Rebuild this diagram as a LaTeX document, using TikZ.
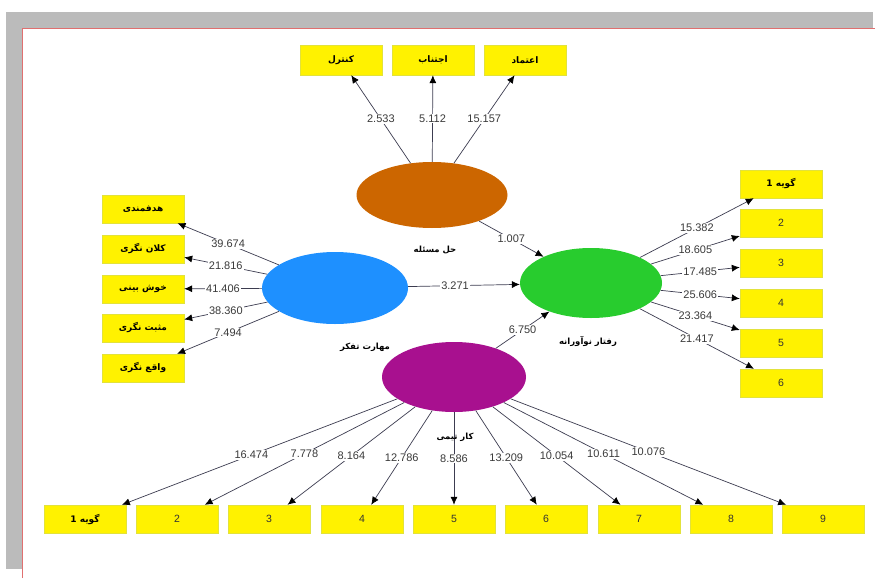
\documentclass[tikz,border=0pt]{standalone}
\usepackage{fontspec}
\setmainfont{Liberation Sans}
\newfontfamily\farsi[Script=Arabic]{DejaVu Sans}
\TeXXeTstate=1
\usepackage{xcolor}
\usetikzlibrary{shapes,arrows.meta,positioning,calc}

\definecolor{panelgray}{HTML}{BBBBBB}
\definecolor{framered}{HTML}{E07070}
\definecolor{boxedge}{HTML}{E2E23C}
\definecolor{linegray}{HTML}{3C3C50}
\definecolor{coefgray}{HTML}{3A3A3A}
\definecolor{solveorange}{HTML}{CC6600}
\definecolor{thinkblue}{HTML}{1E90FF}
\definecolor{innogreen}{HTML}{28CC2E}
\definecolor{teampurple}{HTML}{A8108F}

\newcommand{\fa}[1]{{\farsi\bfseries\beginR #1\endR}}

\begin{document}
\begin{tikzpicture}[x=1pt, y=-1pt,
    item/.style={rectangle, draw=boxedge, fill=yellow, minimum width=82pt, minimum height=28pt, inner sep=0pt, text=black!80, font=\fontsize{10.5}{12}\selectfont},
    faitem/.style={item, text=black, font=\fontsize{9}{10}\selectfont},
    latent/.style={ellipse, minimum width=146pt, minimum height=70pt, inner sep=0pt},
    tag/.style={font=\fontsize{8.5}{10}\selectfont},
    load/.style={draw=linegray, line width=0.7pt, -{Latex[length=8pt, width=7pt, color=black]}},
    coef/.style={fill=white, inner sep=1pt, text=coefgray, font=\fontsize{11}{12}\selectfont}]

    \useasboundingbox (0,0) rectangle (875,578);

    % Page frame
    \fill[panelgray] (6,12) rectangle (873,569);
    \fill[white] (22,28) rectangle (875,578);
    \draw[framered, line width=0.8pt] (22,578) -- (22,28) -- (875,28);

    % Latent variables
    \node[latent, fill=solveorange, minimum width=151pt, minimum height=66pt] (solve) at (432,195) {};
    \node[latent, fill=thinkblue, minimum height=72pt] (think) at (335,288) {};
    \node[latent, fill=innogreen, minimum width=142pt] (inno) at (591,283) {};
    \node[latent, fill=teampurple, minimum width=144pt] (team) at (454,377) {};

    % Indicators of problem solving
    \node[faitem, minimum height=30pt] (s1) at (341,60) {\fa{کنترل}};
    \node[faitem, minimum height=30pt] (s2) at (433,60) {\fa{اجتناب}};
    \node[faitem, minimum height=30pt] (s3) at (525,60) {\fa{اعتماد}};

    % Indicators of thinking skill
    \node[faitem] (t1) at (143,209) {\fa{هدفمندی}};
    \node[faitem] (t2) at (143,249) {\fa{کلان نگری}};
    \node[faitem] (t3) at (143,289) {\fa{خوش بینی}};
    \node[faitem] (t4) at (143,328) {\fa{مثبت نگری}};
    \node[faitem] (t5) at (143,368) {\fa{واقع نگری}};

    % Indicators of innovative behaviour
    \node[faitem] (i1) at (781,184) {\fa{گویه 1}};
    \node[item] (i2) at (781,223) {2};
    \node[item] (i3) at (781,263) {3};
    \node[item] (i4) at (781,303) {4};
    \node[item] (i5) at (781,343) {5};
    \node[item] (i6) at (781,383) {6};

    % Indicators of teamwork
    \node[faitem] (m1) at (85,519) {\fa{گویه 1}};
    \node[item] (m2) at (177,519) {2};
    \node[item] (m3) at (269,519) {3};
    \node[item] (m4) at (362,519) {4};
    \node[item] (m5) at (454,519) {5};
    \node[item] (m6) at (546,519) {6};
    \node[item] (m7) at (639,519) {7};
    \node[item] (m8) at (731,519) {8};
    \node[item] (m9) at (823,519) {9};

    % Structural paths
    \draw[load] (solve) -- node[coef] {1.007} (inno);
    \draw[load] (think) -- node[coef, pos=0.42] {3.271} (inno);
    \draw[load] (team) -- node[coef] {6.750} (inno);

    % Loadings
    \draw[load] (solve) -- node[coef] {2.533} (s1);
    \draw[load] (solve) -- node[coef] {5.112} (s2);
    \draw[load] (solve) -- node[coef] {15.157} (s3);

    \draw[load] (think) -- node[coef] {39.674} (t1);
    \draw[load] (think) -- node[coef] {21.816} (t2);
    \draw[load] (think) -- node[coef] {41.406} (t3);
    \draw[load] (think) -- node[coef] {38.360} (t4);
    \draw[load] (think) -- node[coef] {7.494} (t5);

    \draw[load] (inno) -- node[coef] {15.382} (i1);
    \draw[load] (inno) -- node[coef] {18.605} (i2);
    \draw[load] (inno) -- node[coef] {17.485} (i3);
    \draw[load] (inno) -- node[coef] {25.606} (i4);
    \draw[load] (inno) -- node[coef] {23.364} (i5);
    \draw[load] (inno) -- node[coef] {21.417} (i6);

    \draw[load] (team) -- node[coef, pos=0.53] {16.474} (m1);
    \draw[load] (team) -- node[coef] {7.778} (m2);
    \draw[load] (team) -- node[coef] {8.164} (m3);
    \draw[load] (team) -- node[coef] {12.786} (m4);
    \draw[load] (team) -- node[coef] {8.586} (m5);
    \draw[load] (team) -- node[coef] {13.209} (m6);
    \draw[load] (team) -- node[coef] {10.054} (m7);
    \draw[load] (team) -- node[coef] {10.611} (m8);
    \draw[load] (team) -- node[coef] {10.076} (m9);

    % Latent names (on top of the lines)
    \node[tag] (solvename) at (435,250) {\fa{حل مسئله}};
    \node[tag] (thinkname) at (365,347) {\fa{مهارت تفکر}};
    \node[tag] (innoname) at (588,341) {\fa{رفتار نوآورانه}};
    \node[tag] (teamname) at (455,437) {\fa{کار تیمی}};
\end{tikzpicture}
\end{document}
